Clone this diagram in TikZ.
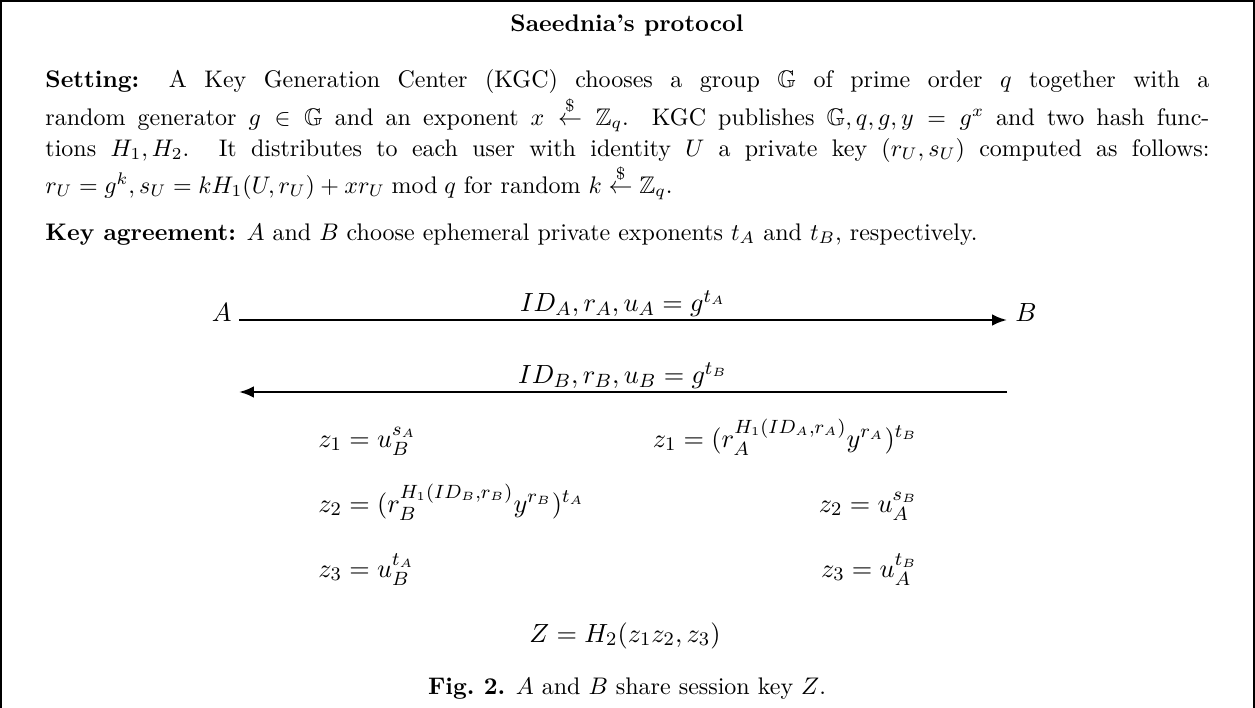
\documentclass[tikz,border=0pt]{standalone}
\usepackage{amsmath,amssymb}
\usetikzlibrary{arrows.meta}
\begin{document}
\begin{tikzpicture}[x=0.41667pt,y=-0.41667pt,
  frame/.style={line width=0.8pt},
  msg/.style={line width=0.95pt},
  tip/.style={-{Latex[length=6.2pt,width=4.8pt]}},
  txt/.style={inner sep=0pt, font=\fontsize{10}{13}\selectfont},
  dsp/.style={inner sep=0pt, font=\fontsize{10.8}{13}\selectfont},
  para/.style={txt, anchor=base west, text width=485pt, align=justify},
  eqw/.style={dsp, anchor=base west},
  eqe/.style={dsp, anchor=base east},
  eqc/.style={dsp, anchor=base},
  lbl/.style={dsp, midway, anchor=base, yshift=3.5pt},
]
\useasboundingbox (0,0) rectangle (1255,708);
\draw[frame] (1,708) -- (1,1) -- (1254,1) -- (1254,708);

\node[txt, anchor=base] (title) at (627,32) {\textbf{Saeednia's protocol}};

\node[para] (setting) at (45,88) {\textbf{Setting:} A Key Generation Center (KGC) chooses a group $\mathbb{G}$ of prime order $q$ together with a\linebreak random generator $g\in\mathbb{G}$ and an exponent $x \overset{\$}{\leftarrow} \mathbb{Z}_q$. KGC publishes $\mathbb{G}, q, g, y=g^x$ and two hash func-\linebreak tions $H_1,H_2$. It distributes to each user with identity $U$ a private key $(r_U,s_U)$ computed as follows:\linebreak $r_U=g^k, s_U=kH_1(U,r_U)+xr_U \bmod q$ for random $k\overset{\$}{\leftarrow}\mathbb{Z}_q$.};

\node[para] (agree) at (45,240) {\textbf{Key agreement:} $A$ and $B$ choose ephemeral private exponents $t_A$ and $t_B$, respectively.};

\node[eqe] (A) at (232,321) {$A$};
\node[eqw] (B) at (1015,321) {$B$};
\coordinate (a1) at (239,320);
\coordinate (b1) at (1007,320);
\coordinate (a2) at (239,392);
\coordinate (b2) at (1007,392);
\draw[msg,tip] (a1) -- node[lbl] (m1) {$ID_A, r_A, u_A = g^{t_A}$} (b1);
\draw[msg,tip] (b2) -- node[lbl] (m2) {$ID_B, r_B, u_B = g^{t_B}$} (a2);

\node[eqw] (za1) at (318,447) {$z_1 = u_B^{s_A}$};
\node[eqe] (zb1) at (918,447) {$z_1 = (r_A^{H_1(ID_A,r_A)}y^{r_A})^{t_B}$};
\node[eqw] (za2) at (318,512) {$z_2 = (r_B^{H_1(ID_B,r_B)}y^{r_B})^{t_A}$};
\node[eqe] (zb2) at (918,512) {$z_2 = u_A^{s_B}$};
\node[eqw] (za3) at (318,577) {$z_3 = u_B^{t_A}$};
\node[eqe] (zb3) at (918,577) {$z_3 = u_A^{t_B}$};

\node[eqc] (key) at (625,642) {$Z = H_2(z_1z_2,z_3)$};

\node[txt, anchor=base] (cap) at (627,694) {\textbf{Fig.\ 2.} $A$ and $B$ share session key $Z$.};
\end{tikzpicture}
\end{document}
